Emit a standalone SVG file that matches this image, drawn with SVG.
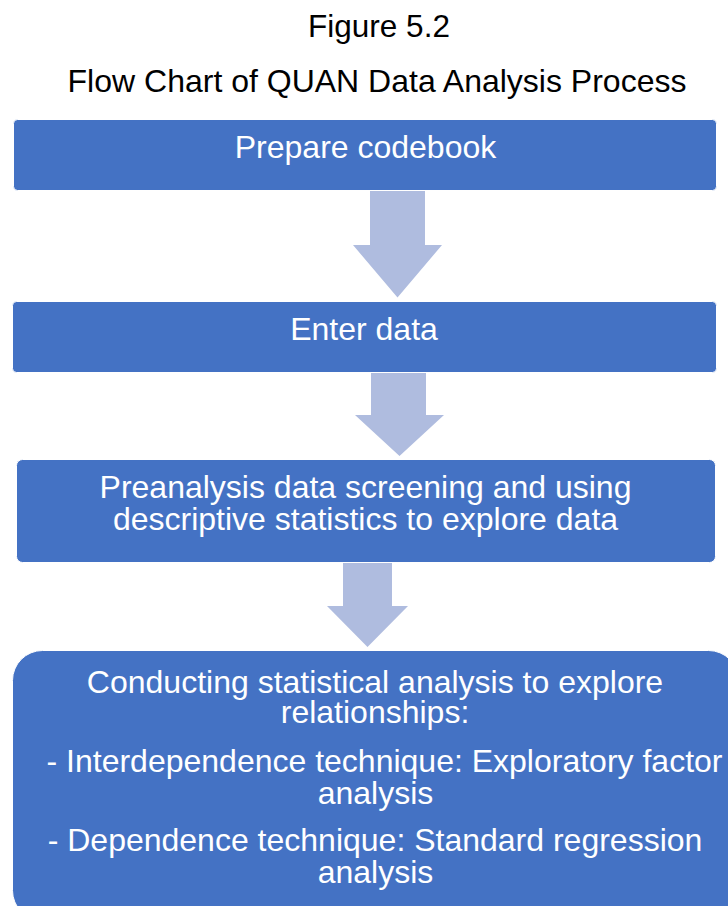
<svg xmlns="http://www.w3.org/2000/svg" width="728" height="906" viewBox="0 0 728 906">
  <style>
    .title { font-family: "Liberation Sans", Arial, sans-serif; font-size: 32px; fill: #000000; text-anchor: middle; }
    .box { fill: #4472c4; stroke: #ffffff; stroke-width: 1; }
    .label { font-family: "Liberation Sans", Arial, sans-serif; font-size: 32px; fill: #ffffff; text-anchor: middle; }
    .arrow { fill: #afbcdf; }
  </style>
  <rect width="728" height="906" fill="#ffffff"/>

  <!-- heading -->
  <text class="title" x="379" y="37" style="font-size:31.5px">Figure 5.2</text>
  <text class="title" x="377" y="92">Flow Chart of QUAN Data Analysis Process</text>

  <!-- block arrows between steps -->
  <g id="connectors">
    <polygon class="arrow" points="370,190 425,190 425,245 442,245 397.5,297.5 353,245 370,245"/>
    <polygon class="arrow" points="371,372 426,372 426,415 444,415 399.5,456 355,415 371,415"/>
    <polygon class="arrow" points="343,562 392,562 392,606 408,606 367.5,647 327,606 343,606"/>
  </g>

  <g id="step1">
    <rect class="box" x="13.5" y="119.5" width="703" height="71" rx="4"/>
    <text class="label" x="365.5" y="158">Prepare codebook</text>
  </g>

  <g id="step2">
    <rect class="box" x="12.5" y="301.5" width="704" height="71" rx="4"/>
    <text class="label" x="364" y="340">Enter data</text>
  </g>

  <g id="step3">
    <rect class="box" x="16.5" y="459.5" width="699" height="103" rx="6"/>
    <text class="label" x="365.5" y="498">Preanalysis data screening and using</text>
    <text class="label" x="365.5" y="530">descriptive statistics to explore data</text>
  </g>

  <g id="step4">
    <rect class="box" x="12.5" y="650.5" width="726" height="270" rx="30"/>
    <text class="label" x="375" y="693">Conducting statistical analysis to explore</text>
    <text class="label" x="375" y="723">relationships:</text>
    <text class="label" x="384.5" y="772">- Interdependence technique: Exploratory factor</text>
    <text class="label" x="375.5" y="804">analysis</text>
    <text class="label" x="375" y="851">- Dependence technique: Standard regression</text>
    <text class="label" x="375.5" y="883">analysis</text>
  </g>
</svg>
